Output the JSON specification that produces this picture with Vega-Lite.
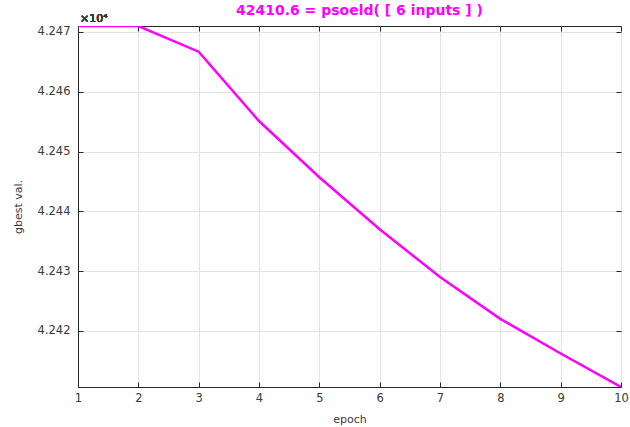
{
  "$schema": "https://vega.github.io/schema/vega-lite/v6.json",
  "width": 543,
  "height": 361,
  "autosize": "none",
  "padding": {"left": 78, "top": 26, "right": 9, "bottom": 40},
  "background": "white",
  "config": {
    "view": {"stroke": "#262626", "strokeWidth": 1},
    "font": "DejaVu Sans",
    "axis": {
      "labelFont": "DejaVu Sans",
      "titleFont": "DejaVu Sans",
      "labelFontSize": 11.5,
      "titleFontSize": 11,
      "labelColor": "#3a3a3a",
      "titleColor": "#3a3a3a",
      "titleFontWeight": "normal",
      "domainColor": "#262626",
      "tickColor": "#262626",
      "gridColor": "#e3e3e3",
      "gridWidth": 1
    }
  },
  "title": {
    "text": "42410.6 = psoeld( [ 6 inputs ] )",
    "color": "#ff00ff",
    "fontSize": 14,
    "fontWeight": "bold",
    "font": "DejaVu Sans",
    "anchor": "middle",
    "baseline": "bottom",
    "offset": 0,
    "dy": 19,
    "dx": 10
  },
  "data": {
    "values": [
      {"epoch": 1, "gbest": 42471.0},
      {"epoch": 2, "gbest": 42471.0},
      {"epoch": 3, "gbest": 42466.7},
      {"epoch": 4, "gbest": 42455.1},
      {"epoch": 5, "gbest": 42445.7},
      {"epoch": 6, "gbest": 42437.0},
      {"epoch": 7, "gbest": 42429.0},
      {"epoch": 8, "gbest": 42422.0},
      {"epoch": 9, "gbest": 42416.2},
      {"epoch": 10, "gbest": 42410.6}
    ]
  },
  "resolve": {"axis": {"x": "independent", "y": "independent"}},
  "layer": [
    {
      "mark": {"type": "line", "color": "#ff00ff", "strokeWidth": 2.5, "clip": true},
      "encoding": {
        "x": {
          "field": "epoch", "type": "quantitative",
          "scale": {"domain": [1, 10], "nice": false, "zero": false},
          "axis": {"orient": "bottom", "title": "epoch", "values": [1,2,3,4,5,6,7,8,9,10], "grid": true, "tickSize": -5, "labelPadding": 10, "titlePadding": 10, "labelFlush": false}
        },
        "y": {
          "field": "gbest", "type": "quantitative",
          "scale": {"domain": [42410.6, 42471.0], "nice": false, "zero": false},
          "axis": {"orient": "left", "title": "gbest val.", "values": [42420, 42430, 42440, 42450, 42460, 42470], "labelExpr": "format(datum.value/10000, '.3f')", "grid": true, "tickSize": -5, "labelPadding": 13, "titlePadding": 14}
        }
      }
    },
    {
      "mark": {"type": "text", "align": "left", "baseline": "bottom", "dy": -2, "dx": 2, "fontSize": 11, "color": "#3a3a3a", "font": "DejaVu Sans"},
      "encoding": {
        "x": {"datum": 1, "type": "quantitative", "axis": {"orient": "top", "title": null, "labels": false, "grid": false, "domain": false, "tickSize": -5, "values": [1,2,3,4,5,6,7,8,9,10]}},
        "y": {"datum": 42471.0, "type": "quantitative", "axis": {"orient": "right", "title": null, "labels": false, "grid": false, "domain": false, "tickSize": -5, "values": [42420, 42430, 42440, 42450, 42460, 42470]}},
        "text": {"value": "×10⁴"}
      }
    }
  ]
}
